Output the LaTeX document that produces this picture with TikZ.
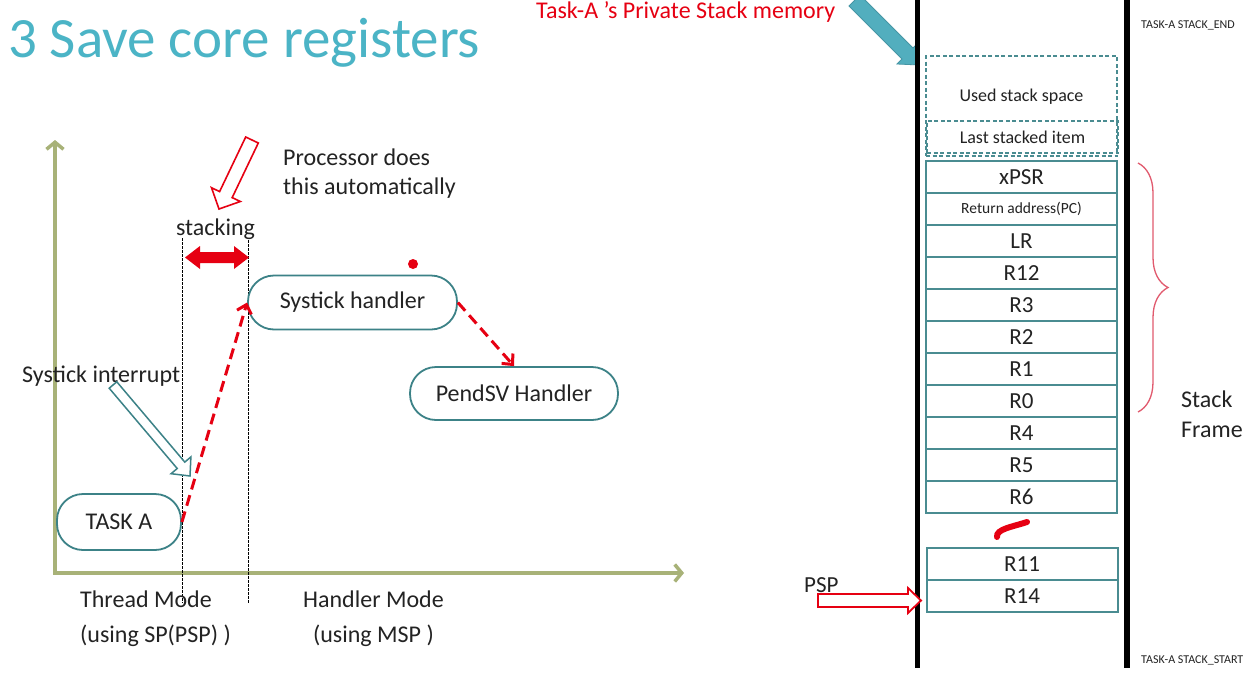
\documentclass[tikz,border=0pt]{standalone}
\usepackage{fontspec}
\setmainfont{Carlito}
\usetikzlibrary{arrows.meta,decorations.pathreplacing,positioning}
\definecolor{titlecol}{RGB}{75,180,198}
\definecolor{axiscol}{RGB}{168,178,120}
\definecolor{pillcol}{RGB}{60,130,135}
\definecolor{boxcol}{RGB}{74,140,145}
\definecolor{redc}{RGB}{230,0,18}
\definecolor{bracecol}{RGB}{225,90,110}
\definecolor{tealfill}{RGB}{82,174,190}
\definecolor{tealdraw}{RGB}{70,150,165}
\definecolor{txt}{RGB}{35,35,35}
\begin{document}
\begin{tikzpicture}[x=1pt,y=-1pt,
  txt24/.style={font=\fontsize{24}{29}\selectfont, text=txt, inner sep=0pt},
  pill/.style={draw=pillcol, line width=1.8pt, rounded corners=26pt, inner sep=0pt,
    font=\fontsize{24}{29}\selectfont, text=txt},
  stkbox/.style={draw=boxcol, line width=2pt, minimum width=191pt, minimum height=32pt,
    inner sep=0pt, outer sep=0pt, font=\fontsize{23}{27}\selectfont, text=txt},
  dbox/.style={draw=boxcol, line width=1.5pt, dash pattern=on 4pt off 2.5pt, inner sep=0pt,
    outer sep=0pt, font=\fontsize{18}{22}\selectfont, text=txt},
  axisline/.style={draw=axiscol, line width=3.5pt, -{Straight Barb[length=7pt,width=17pt]}},
  vdots/.style={draw=black, line width=0.8pt, dash pattern=on 2.5pt off 1.5pt},
  rdash/.style={draw=redc, line width=3pt, dash pattern=on 11pt off 6pt,
    -{Straight Barb[length=8pt,width=15pt]}},
  smalltxt/.style={font=\fontsize{12}{14}\selectfont, text=txt, inner sep=0pt, anchor=west}
]
\useasboundingbox (0,0) rectangle (1251,675);
\fill[white] (0,0) rectangle (1251,675);

% title
\node[anchor=base west, inner sep=0pt, font=\fontsize{57}{62}\selectfont, text=titlecol] (title) at (8,57) {3 Save core registers};

% axes
\coordinate (orig) at (55,573);
\coordinate (ytop) at (55,140);
\coordinate (xend) at (684,573);
\draw[axisline] ([yshift=1.75pt]orig) -- (ytop);
\draw[axisline] ([xshift=-1.75pt]orig) -- (xend);

% dotted vertical guides
\draw[vdots] (182,238) -- (182,603);
\draw[vdots] (248,240) -- (248,603);

% nodes on the left
\node[pill, minimum width=124pt, minimum height=56pt] (taskA) at (119,522) {TASK A};
\node[pill, minimum width=209pt, minimum height=54pt] (sys) at (352.5,302.5) {Systick handler};
\node[pill, minimum width=208pt, minimum height=53pt] (pend) at (514,393.5) {PendSV Handler};

\draw[rdash] (taskA.east) -- (sys.west);
\draw[rdash] (sys.east) -- (pend.north);

% texts on the left
\node[txt24, anchor=base west, align=left] (proc) at (283,194) {Processor does\\this automatically};
\node[txt24, anchor=base] (stacking) at (215.5,235) {stacking};
\node[txt24, anchor=base west] (sint) at (22,382) {Systick interrupt};
\node[txt24, anchor=base west, align=left, font=\fontsize{24}{35}\selectfont] (thr) at (80,642) {Thread Mode\\(using SP(PSP) )};
\node[txt24, anchor=base, align=center, font=\fontsize{24}{35}\selectfont] (hnd) at (373.5,642) {Handler Mode\\(using MSP )};

% red double arrow (stacking)
\fill[redc] (185,257.5) -- (200,246) -- (200,252) -- (234,252) -- (234,246) -- (249,257.5)
  -- (234,269) -- (234,263) -- (200,263) -- (200,269) -- cycle;

% red outlined block arrow (processor does)
\draw[draw=redc, fill=white, line width=1.6pt, line join=miter]
  (245.7,137.0) -- (258.3,143.0) -- (232.2,197.6) -- (240.3,201.5) -- (219,209)
  -- (211.5,187.7) -- (219.6,191.6) -- cycle;

% teal outlined block arrow (systick interrupt)
\draw[draw=pillcol, fill=white, line width=1.5pt, line join=miter]
  (109.2,388.2) -- (116.8,381.8) -- (184.8,462.1) -- (190.9,456.9) -- (190,476)
  -- (171.1,473.7) -- (177.2,468.5) -- cycle;

% red dot
\fill[redc] (413,264) circle (5pt);

% ---------- right: stack memory ----------
\node[anchor=base west, inner sep=0pt, font=\fontsize{24}{29}\selectfont, text=redc] (tasklbl) at (536,18) {Task-A ’s Private Stack memory};

% teal pointer arrow
\draw[fill=tealfill, draw=tealdraw, line width=0.8pt, line join=miter]
  (849,6) -- (860,-5) -- (913,48) -- (918,43) -- (919,65) -- (897,64) -- (902,59) -- cycle;

% dashed boxes
\node[dbox, minimum width=191pt, minimum height=100pt] (used) at (1021.5,106) {};
\node[font=\fontsize{18}{22}\selectfont, text=txt, inner sep=0pt] (usedtxt) at (1021.5,97) {Used stack space};
\node[dbox, minimum width=191pt, minimum height=32pt] (last) at (1022.5,137) {Last stacked item};

% stack frame boxes
\node[stkbox] (xpsr) at (1021.5,177) {xPSR};
\node[stkbox, below=0pt of xpsr, font=\fontsize{15.5}{18}\selectfont] (ret) {Return address(PC)};
\node[stkbox, below=0pt of ret] (lr) {LR};
\node[stkbox, below=0pt of lr] (r12) {R12};
\node[stkbox, below=0pt of r12] (r3) {R3};
\node[stkbox, below=0pt of r3] (r2) {R2};
\node[stkbox, below=0pt of r2] (r1) {R1};
\node[stkbox, below=0pt of r1] (r0) {R0};
\node[stkbox, below=0pt of r0] (r4) {R4};
\node[stkbox, below=0pt of r4] (r5) {R5};
\node[stkbox, below=0pt of r5] (r6) {R6};
\node[stkbox] (r11) at (1022,564) {R11};
\node[stkbox, below=0pt of r11] (r14) {R14};

% red squiggle
\draw[redc, line width=6pt, line cap=round] (1027,522) .. controls (1012,527) and (996,529) .. (997,537);

% memory boundary lines
\draw[line width=5pt] (917.5,0) -- (917.5,668);
\draw[line width=6pt] (1127,0) -- (1127,668);

% brace
\draw[bracecol, line width=1.3pt, decorate, decoration={brace, amplitude=30pt}] (1138,163) -- (1138,412);
\node[txt24, anchor=base west, align=left, font=\fontsize{24}{30}\selectfont] (frame) at (1181,437) {Stack\\Frame};

% PSP pointer
\node[txt24, anchor=base west, font=\fontsize{23}{27}\selectfont] (psp) at (804,592) {PSP};
\draw[draw=redc, fill=white, line width=1.8pt, line join=miter]
  (818,594) -- (908,594) -- (908,588) -- (921,600.5) -- (908,613) -- (908,607) -- (818,607) -- cycle;

% end labels
\node[smalltxt] (send) at (1141,25) {TASK-A STACK\_END};
\node[smalltxt] (sstart) at (1141,660) {TASK-A STACK\_START};
\end{tikzpicture}
\end{document}
